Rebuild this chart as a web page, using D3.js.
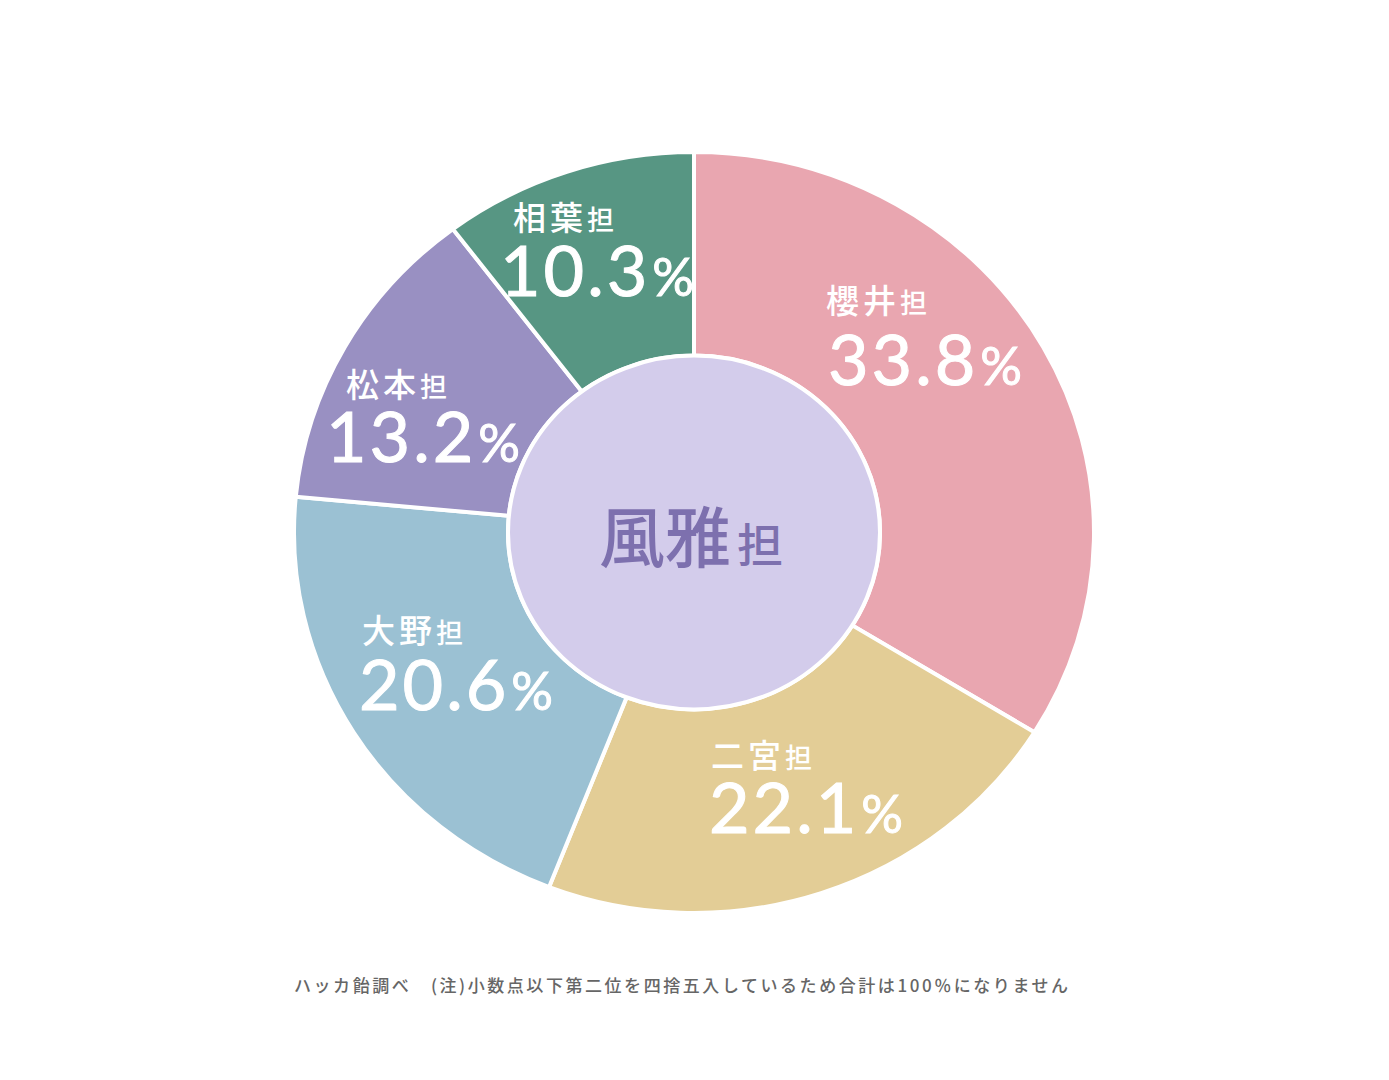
<!DOCTYPE html>
<html>
<head>
<meta charset="utf-8">
<script src="https://cdn.jsdelivr.net/npm/d3@7"></script>
<style>
  body { margin: 0; background: #fff; }
  svg { display: block; }
</style>
</head>
<body>
<div id="chart"></div>
<script>
// data
const groups = ["櫻井", "二宮", "大野", "松本", "相葉"];
const shares = [33.8, 22.1, 20.6, 13.2, 10.3];
const colors = ["#e9a6b0", "#e3cd96", "#9bc1d3", "#9990c2", "#579683"];
const centerLabel = "風雅";
const suffix = "担";
const note = "ハッカ飴調べ　(注)小数点以下第二位を四捨五入しているため合計は100％になりません";

// label anchors relative to centre (hand placed, like the original)
const labelOffsets = [[132, -220], [17, 235], [-332, 110], [-348, -136], [-181, -303]];
const numberOffsets = [[134, -148], [15, 300], [-335, 177], [-368, -71], [-194, -237]];

const W = 1389, H = 1080;
const cx = 694, cy = 532.5;
const outerR = 400, innerR = 186, squash = 0.951;

const svg = d3.select("#chart")
  .append("svg")
  .attr("width", W)
  .attr("height", H);

const pie = d3.pie().sort(null).value(d => d);
const arc = d3.arc().innerRadius(innerR).outerRadius(outerR);

const ring = svg.append("g")
  .attr("transform", `translate(${cx},${cy}) scale(1,${squash})`);

ring.selectAll("path")
  .data(pie(shares))
  .enter()
  .append("path")
  .attr("d", arc)
  .attr("fill", (d, i) => colors[i])
  .attr("stroke", "#fff")
  .attr("stroke-width", 4)
  .attr("stroke-linejoin", "round")
  .attr("vector-effect", "non-scaling-stroke");

ring.append("circle")
  .attr("r", innerR)
  .attr("fill", "#d3cceb")
  .attr("stroke", "#fff")
  .attr("stroke-width", 4)
  .attr("vector-effect", "non-scaling-stroke");

const labels = svg.append("g").attr("transform", `translate(${cx},${cy})`);

// names
const nameText = labels.selectAll(".name")
  .data(groups)
  .enter()
  .append("text")
  .attr("class", "name")
  .attr("x", (d, i) => labelOffsets[i][0])
  .attr("y", (d, i) => labelOffsets[i][1])
  .attr("fill", "#fff")
  .style("font-family", "'Noto Sans CJK JP', sans-serif")
  .style("font-weight", 500)
  .style("letter-spacing", "4px");
nameText.append("tspan").style("font-size", "33px").text(d => d);
nameText.append("tspan").style("font-size", "27px").text(suffix);

// percentages (regular weight thickened a little with a stroke)
const numText = labels.selectAll(".num")
  .data(shares)
  .enter()
  .append("text")
  .attr("class", "num")
  .attr("x", (d, i) => numberOffsets[i][0])
  .attr("y", (d, i) => numberOffsets[i][1])
  .attr("fill", "#fff")
  .attr("stroke", "#fff")
  .attr("stroke-width", 1)
  .style("font-family", "Lato, sans-serif")
  .style("font-weight", 400)
  .style("letter-spacing", "3px");
numText.append("tspan").style("font-size", "70px").text(d => d3.format(".1f")(d));
numText.append("tspan").style("font-size", "52px").attr("dx", 2).text("%");

// centre label
const center = labels.append("text")
  .attr("x", -3)
  .attr("y", 29)
  .attr("text-anchor", "middle")
  .attr("fill", "#7d70ae")
  .style("font-family", "'Noto Sans CJK JP', sans-serif")
  .style("font-weight", 500);
center.append("tspan").style("font-size", "66px").text(centerLabel);
center.append("tspan").style("font-size", "46px").attr("dx", 6).text(suffix);

// footnote
svg.append("text")
  .attr("x", 294)
  .attr("y", 992)
  .attr("textLength", 774)
  .attr("lengthAdjust", "spacing")
  .attr("fill", "#666")
  .style("font-family", "'Noto Sans CJK JP', sans-serif")
  .style("font-size", "17px")
  .style("font-weight", 500)
  .text(note);
</script>
</body>
</html>
